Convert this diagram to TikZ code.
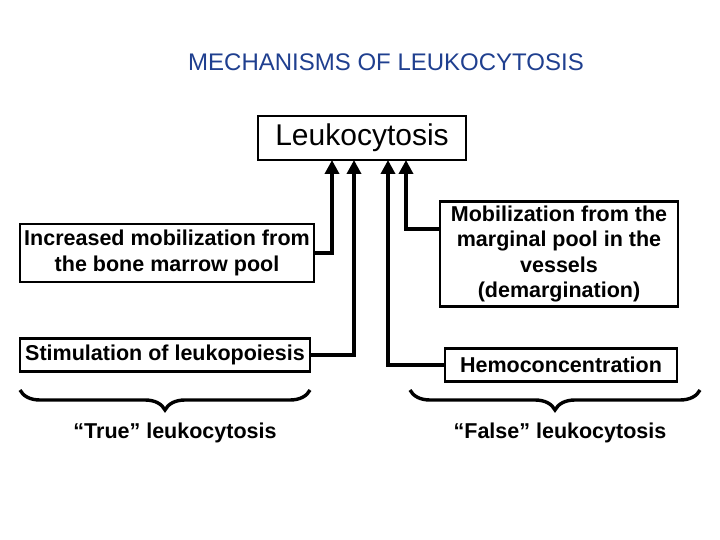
\documentclass[tikz,border=0pt]{standalone}
\usepackage{fontspec}
\setmainfont{Liberation Sans}
\usetikzlibrary{decorations.pathreplacing,arrows.meta}
\definecolor{ttl}{HTML}{1F3F8F}
\begin{document}
\begin{tikzpicture}[x=1pt,y=-1pt,
  bx/.style={draw,line width=2.6pt,inner sep=0pt,font=\bfseries\fontsize{21.5}{25.5}\selectfont,align=center},
  con/.style={line width=4.6pt,-{Triangle[length=14pt,width=14pt]}},
  br/.style={line width=3.4pt,decorate,decoration={brace,amplitude=20pt}}]
\useasboundingbox (0,0) rectangle (720,540);
\node[text=ttl,font=\fontsize{24}{28}\selectfont] (t) at (386,62) {MECHANISMS OF LEUKOCYTOSIS};
\node[bx,font=\fontsize{30}{34}\selectfont,minimum width=208pt,minimum height=44pt] (L) at (362,138) {Leukocytosis};
\node[bx,minimum width=294pt,minimum height=58pt] (a) at (167,253) {Increased mobilization from\\the bone marrow pool};
\node[bx,minimum width=290pt,minimum height=33pt] (b) at (165,355) {Stimulation of leukopoiesis};
\node[bx,minimum width=238pt,minimum height=105pt] (c) at (559,254) {Mobilization from the\\marginal pool in the\\vessels\\(demargination)};
\node[bx,minimum width=232pt,minimum height=33pt] (d) at (561,365) {Hemoconcentration};
\coordinate (a1) at (332,160); \coordinate (b1) at (354,160);
\coordinate (c1) at (388,160); \coordinate (d1) at (406,160);
\draw[con] (a.east) -| (a1);
\draw[con] (b.east) -| (b1);
\draw[con] (d.west) -| (c1);
\draw[con] (c.west |- 0,229) -| (d1);
\draw[br] (310,390) -- (20,390) coordinate (bl);
\draw[br] (700,390) -- (410,390) coordinate (brr);
\node[font=\bfseries\fontsize{21.5}{25.5}\selectfont] (tl) at (175,433) {“True” leukocytosis};
\node[font=\bfseries\fontsize{21.5}{25.5}\selectfont] (fl) at (560,433) {“False” leukocytosis};
\end{tikzpicture}
\end{document}
